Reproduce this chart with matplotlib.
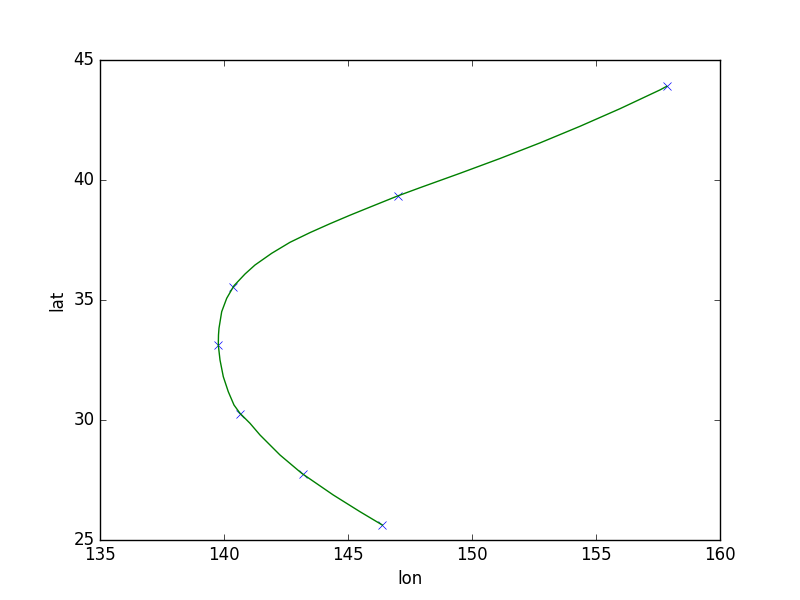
import matplotlib
matplotlib.use('Agg')
import matplotlib.pyplot as plt

plt.style.use('classic')

# observed positions (markers)
lon_obs = [146.38, 143.17, 140.65, 139.77, 140.35, 147.0, 157.85]
lat_obs = [25.625, 27.74, 30.24, 33.125, 35.55, 39.33, 43.92]

# smooth track
lon_track = [146.383, 145.484, 144.407, 143.133, 142.258, 141.855, 141.452,
             141.048, 140.645, 140.403, 140.173, 139.972, 139.839, 139.770,
             139.778, 139.798, 139.907, 140.109, 140.403, 140.847, 141.250,
             141.923, 142.661, 143.468, 144.274, 145.081, 145.887, 146.996,
             147.903, 149.516, 151.129, 152.742, 154.355, 155.968, 157.581,
             157.851]
lat_track = [25.625, 26.179, 26.875, 27.779, 28.542, 28.958, 29.375,
             29.863, 30.279, 30.625, 31.179, 31.804, 32.5, 33.125,
             33.542, 33.821, 34.513, 35.071, 35.596, 36.083, 36.458,
             36.946, 37.404, 37.808, 38.179, 38.533, 38.871, 39.333,
             39.679, 40.279, 40.896, 41.546, 42.238, 42.971, 43.754,
             43.904]

fig = plt.figure(figsize=(8, 6))
ax = fig.add_subplot(111)
ax.plot(lon_obs, lat_obs, 'bx')
ax.plot(lon_track, lat_track, 'g-')
ax.set_xlim(135, 160)
ax.set_ylim(25, 45)
ax.set_xlabel('lon')
ax.set_ylabel('lat')

plt.savefig('out.png', dpi=100, facecolor='white')
